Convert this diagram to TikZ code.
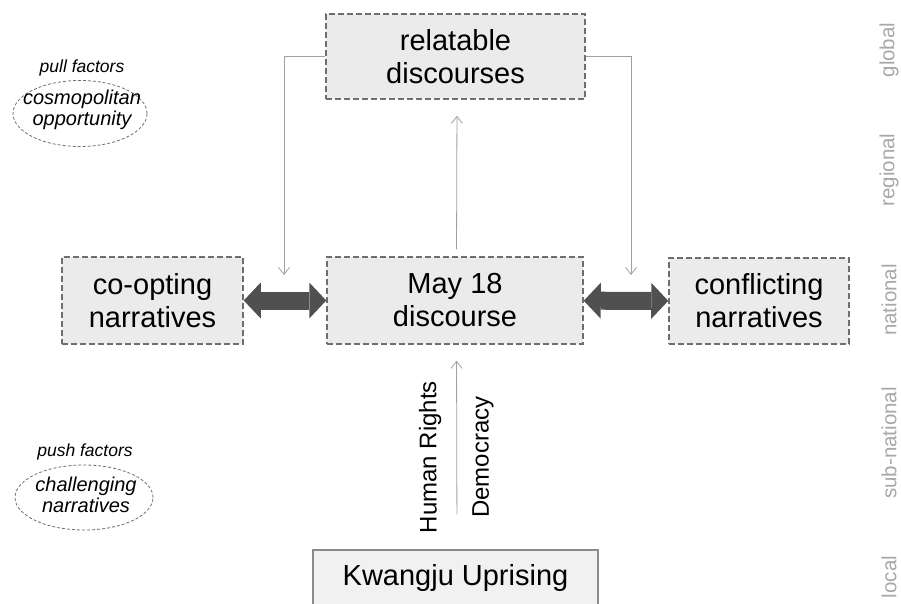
\documentclass[tikz,border=0pt]{standalone}
\usepackage{fontspec}
\setmainfont{Liberation Sans}
\usepackage{xcolor}
\usetikzlibrary{arrows.meta,positioning,shapes.geometric,scopes}
\definecolor{boxfill}{HTML}{EBEBEB}
\definecolor{boxline}{HTML}{6E6E6E}
\definecolor{linkgray}{HTML}{A0A0A0}
\definecolor{fatgray}{HTML}{505050}
\definecolor{levelgray}{HTML}{A8A8A8}

\begin{document}
\begin{tikzpicture}[x=1pt,y=1pt,
    discourse/.style={rectangle,draw=boxline,fill=boxfill,dash pattern=on 6pt off 3pt,line width=1.5pt,align=center,font=\fontsize{29}{33}\selectfont},
    origin/.style={rectangle,draw=boxline!80,fill=boxfill!70,line width=1.5pt,font=\fontsize{29}{33}\selectfont},
    link/.style={draw=linkgray,line width=0.8pt,-{Straight Barb[length=7pt,width=11pt]}},
    clash/.style={draw=fatgray,line width=18pt,{Triangle[length=17pt,width=36pt,line width=0pt]}-{Triangle[length=17pt,width=36pt,line width=0pt]}},
    oval/.style={ellipse,draw=boxline,dash pattern=on 3pt off 2pt,line width=0.8pt},
    ovaltext/.style={align=center,font=\fontsize{20}{20.5}\selectfont\itshape},
    factor/.style={font=\fontsize{17.5}{20}\selectfont\itshape},
    value/.style={font=\fontsize{24}{28}\selectfont,inner sep=0pt,sloped,allow upside down},
    level/.style={rotate=90,text=levelgray,font=\fontsize{20.5}{24}\selectfont},]
\useasboundingbox (0,0) rectangle (901,-604);
% discourses
\node[discourse,minimum width=259pt,minimum height=85pt] (top) at (455.5,-56.5) {relatable\\discourses};
\node[discourse,minimum width=256pt,minimum height=87pt] (may) at (455,-300.5) {May 18\\discourse};
\node[discourse,minimum width=181pt,minimum height=87pt] (coopt) at (152.5,-300.5) {co-opting\\narratives};
\node[discourse,minimum width=180pt,minimum height=86pt] (conflict) at (759,-301) {conflicting\\narratives};
\node[origin,minimum width=285pt,minimum height=56pt] (kwangju) at (455.5,-578) {Kwangju Uprising};
% factors
\node[oval,minimum width=134pt,minimum height=66pt] (pullov) at (80,-113.5) {};
\node[ovaltext] (pull) at (82,-110) {cosmopolitan\\opportunity};
\node[factor] (pulllbl) at (82,-68) {pull factors};
\node[oval,minimum width=138pt,minimum height=65pt] (pushov) at (84,-497.5) {};
\node[ovaltext] (push) at (86,-495) {challenging\\narratives};
\node[factor] (pushlbl) at (85,-452) {push factors};
% levels
\foreach \lvl/\y in {global/50,regional/170,national/300,sub-national/443,local/577}
    \node[level] (\lvl) at (889,-\y) {\lvl};
% connectors
\coordinate (ldrop) at (284,-275);
\coordinate (rdrop) at (631,-275);
{[link]
    \draw (top.west) -| (ldrop);
    \draw (top.east) -| (rdrop);
    \draw[shorten <=7pt,shorten >=16pt] ([xshift=1.5pt]may.north) -- ([xshift=1.5pt]top.south);
    \draw[shorten <=35pt,shorten >=16pt] ([xshift=1.5pt]kwangju.north) -- ([xshift=1.5pt]may.south)
        node[value,pos=.45,above=15pt] (rights) {Human Rights}
        node[value,pos=.45,below=15pt] (democracy) {Democracy};
}
\draw[clash] (coopt) -- (may);
\draw[clash] (may) -- (conflict);
\end{tikzpicture}
\end{document}
